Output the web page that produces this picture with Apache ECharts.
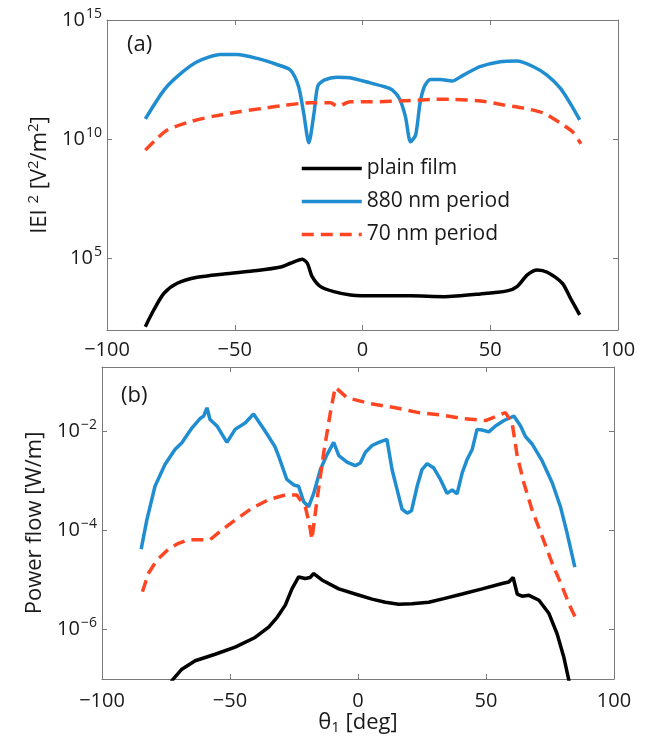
<!DOCTYPE html>
<html><head><meta charset="utf-8">
<script src="https://cdn.jsdelivr.net/npm/echarts@6/dist/echarts.min.js"></script>
<style>html,body{margin:0;padding:0;background:#fff}#c{width:657px;height:745px}</style>
</head><body><div id="c"></div>
<script>
// ---------- data ----------
const xTicks = [-100, -50, 0, 50, 100];
const topYTicks = [1e5, 1e10, 1e15];
const botYTicks = [1e-6, 1e-4, 1e-2];
const seriesNames = ['plain film', '880 nm period', '70 nm period'];

// panel (a): |E|^2
const aPlainX = [-85,-81.7,-77.7,-72.5,-64.7,-54.3,-41.2,-32,-28.2,-23.6,-21.6,-19.7,-16.4,-11.2,-4.7,5.7,18.8,31.9,46.2,56.6,60.5,64.5,68.4,72.3,78.2,81.4,85];
const aPlainY = [138,690,3470,9100,16200,22400,31000,43600,63000,93000,63000,17400,6600,4070,2950,2700,2700,2500,3240,4370,6600,20400,33100,26300,9100,2140,427];

const a880X = [-85,-77.7,-71.9,-64.7,-55.6,-49,-41.2,-33,-28.2,-25,-23,-21,-19,-17.5,-15,-10,-5,3,8.5,11.6,14.5,16.8,18.8,20.8,22.5,24.2,26.6,30.5,35,39.5,46,53.9,60.4,66.9,72.2,77.4,81.3,85];
const a880Y = [7.1e10,1.15e12,4.9e12,1.78e13,3.6e13,3.6e13,2.45e13,1.3e13,7.9e12,1.6e12,1.2e11,7.1e9,1.2e11,1.7e12,3.0e12,4.0e12,3.8e12,2.3e12,1.6e12,1.17e12,5e11,8.9e10,7.9e9,1.5e10,3.2e11,1.6e12,3.2e12,3.2e12,2.75e12,4.9e12,1.1e13,1.78e13,1.9e13,1.1e13,4.9e12,1.38e12,3.2e11,6.5e10];

const a70X = [-85,-81,-76.4,-67.3,-58.2,-47.7,-38.6,-31,-20.4,-12.5,-9.9,-4.7,3.1,18.8,27.9,35,46.2,55.3,63.2,71,77.5,82.1,85.5];
const a70Y = [3.5e9,9.3e9,2.45e10,5.5e10,9.3e10,1.45e11,2.0e11,2.6e11,3.4e11,3.4e11,2.45e11,3.7e11,3.7e11,4.2e11,4.7e11,4.7e11,4.0e11,2.75e11,2.0e11,1.23e11,4.7e10,2.1e10,6.5e9];

// panel (b): power flow
const bPlainX = [-85,-76,-72.7,-68.8,-63.6,-55.8,-48,-40.2,-34.9,-31.5,-28.4,-25.8,-23.2,-20.6,-18.7,-17.3,-14.1,-7.5,-1.1,5.5,10.7,15.9,21.1,27.6,33.5,40.7,48.5,56.3,58.9,60.6,62.2,64.1,66.8,70.7,74.6,77.8,80.4,82.4,85];
const bPlainY = [1e-9,3e-8,9.3e-8,1.58e-7,2.34e-7,3.16e-7,4.4e-7,6.9e-7,1.12e-6,1.78e-6,3.1e-6,6.6e-6,1.15e-5,1.07e-5,1.12e-5,1.35e-5,1.0e-5,6.6e-6,5.2e-6,4.1e-6,3.55e-6,3.24e-6,3.3e-6,3.55e-6,4.2e-6,5.2e-6,6.6e-6,8.5e-6,9.1e-6,1.12e-5,5.2e-6,4.7e-6,4.9e-6,3.9e-6,2.1e-6,8.1e-7,2.75e-7,9.3e-8,1.26e-8];

const b880X = [-84.7,-82.5,-79.3,-75.4,-71.5,-68.8,-64.9,-61.7,-60.3,-59,-57.8,-55.1,-51.2,-48,-44.1,-40.8,-36.3,-32.5,-31,-27.8,-25.1,-23.2,-21.2,-19.3,-17.3,-14.7,-12.1,-9.5,-7.5,-4.3,-1.1,0.9,2.9,5.5,8.1,11.3,13.3,15.3,17.2,19.2,20.9,23.1,25,27,29.6,32.2,34.8,36.8,38.7,40.7,42.6,44.6,46.5,48.5,51.1,53.7,57,60.9,63.5,65.4,68.1,72,75.9,79.1,81.7,84.7];
const b880Y = [4.2e-5,1.62e-4,7.8e-4,2.14e-3,4.3e-3,5.9e-3,1.17e-2,1.82e-2,2.04e-2,3.0e-2,1.74e-2,1.29e-2,6.0e-3,1.1e-2,1.48e-2,2.24e-2,1.02e-2,5.0e-3,3.16e-3,1.07e-3,8.3e-4,7.8e-4,3.8e-4,3.0e-4,5.6e-4,1.7e-3,3.4e-3,6.0e-3,3.24e-3,2.4e-3,2.04e-3,2.3e-3,3.8e-3,5.2e-3,6.0e-3,6.9e-3,1.7e-3,6.6e-4,2.7e-4,2.24e-4,2.5e-4,7.8e-4,1.7e-3,2.24e-3,1.82e-3,1.07e-3,5.6e-4,6.6e-4,5.5e-4,1.45e-3,2.7e-3,4.3e-3,1.1e-2,1.07e-2,9.8e-3,1.29e-2,1.66e-2,2.04e-2,1.29e-2,7.9e-3,5.5e-3,2.5e-3,9.1e-4,3.0e-4,8.7e-5,1.82e-5];

const b70X = [-84.2,-81.9,-78.6,-74,-70.1,-66.2,-62.3,-57.8,-53.2,-48,-41.5,-34.9,-28.4,-23.9,-20.6,-19,-18,-16,-13.4,-10.8,-8.9,-4.3,4.2,14.6,23.7,32.9,40.7,49.8,57.6,60.2,62.2,64.8,68,72,75.9,79.8,83,85.5];
const b70Y = [5.8e-6,1.35e-5,2.5e-5,4.2e-5,5.5e-5,6.5e-5,6.5e-5,6.5e-5,1.02e-4,1.62e-4,2.8e-4,4.2e-4,5.2e-4,5.2e-4,3.0e-4,1.38e-4,6.6e-5,4.2e-4,3.7e-3,2.4e-2,7.8e-2,4.8e-2,3.7e-2,3.0e-2,2.4e-2,2.14e-2,1.82e-2,1.66e-2,2.4e-2,1.48e-2,3.16e-3,9.1e-4,2.6e-4,7.4e-5,2.14e-5,7.2e-6,2.8e-6,1.5e-6];

// ---------- styling ----------
const FONT = 'Open Sans';
const AX = '#7a7a7a';
const TXT = '#1a1a1a';
const colors = { plain: '#000000', p880: '#1f8dd0', p70: '#ff4522' };

function zip(xs, ys) { return xs.map((x, i) => [x, ys[i]]); }
function minus(s) { return String(s).replace('-', '\u2212'); }
function logFmt(v) {
  const e = Math.round(Math.log10(v));
  return '{b|10}{s|' + minus(e) + '}';
}
const supRich = {
  b: { fontFamily: FONT, fontSize: 20, color: TXT },
  s: { fontFamily: FONT, fontSize: 14, color: TXT, padding: [0, 0, 12, 1] }
};

function xAxis(grid, pos, labels, name, margin) {
  return {
    type: 'value', gridIndex: grid, position: pos, min: -100, max: 100, interval: 50,
    axisLine: { show: true, onZero: false, lineStyle: { color: AX, width: 1 } },
    axisTick: { show: true, inside: true, length: 5, lineStyle: { color: AX } },
    axisLabel: { show: labels, margin: margin, fontFamily: FONT, fontSize: 20, color: TXT,
      formatter: v => minus(v) },
    splitLine: { show: false },
    name: name || '', nameLocation: 'middle', nameGap: 30,
    nameTextStyle: { fontFamily: FONT, fontSize: 22, color: TXT,
      rich: { t: { fontFamily: FONT, fontSize: 22, color: TXT },
              sub: { fontFamily: FONT, fontSize: 15, color: TXT, padding: [10, 0, 0, 0] } } }
  };
}
function yAxis(grid, pos, labels, min, max, ticks, name, nameGap) {
  return {
    type: 'log', logBase: 10, gridIndex: grid, position: pos, min: min, max: max,
    axisLine: { show: true, onZero: false, lineStyle: { color: AX, width: 1 } },
    axisTick: { show: true, inside: true, length: 5, lineStyle: { color: AX }, customValues: ticks },
    minorTick: { show: false },
    axisLabel: { show: labels, margin: 5, customValues: ticks, formatter: logFmt, rich: supRich,
      showMaxLabel: true, showMinLabel: true, hideOverlap: false },
    splitLine: { show: false },
    name: name || '', nameLocation: 'middle', nameGap: nameGap || 50, nameRotate: 90,
    nameTextStyle: { fontFamily: FONT, fontSize: 22, color: TXT,
      rich: { t: { fontFamily: FONT, fontSize: 22, color: TXT },
              s: { fontFamily: FONT, fontSize: 15, color: TXT, padding: [0, 0, 12, 0] } } }
  };
}
function line(name, data, color, xi, yi, dashed, smooth) {
  return {
    type: 'line', name: name, data: data, xAxisIndex: xi, yAxisIndex: yi,
    showSymbol: false, symbol: 'none', clip: true, smooth: smooth || false,
    lineStyle: { color: color, width: 3.5, type: dashed ? [12, 7] : 'solid', cap: 'butt' },
    itemStyle: { color: color }, emphasis: { disabled: true }, animation: false, z: dashed ? 3 : 2
  };
}

const chart = echarts.init(document.getElementById('c'), null, { renderer: 'canvas' });
chart.setOption({
  backgroundColor: '#ffffff',
  animation: false,
  grid: [
    { left: 107, top: 20, width: 511, height: 310, containLabel: false },
    { left: 102, top: 367, width: 512, height: 312, containLabel: false }
  ],
  xAxis: [
    xAxis(0, 'bottom', true, '', 10),
    xAxis(0, 'top', false, '', 10),
    xAxis(1, 'bottom', true, '{t|\u03b8}{sub|1}{t| [deg]}', 12),
    xAxis(1, 'top', false, '', 10)
  ],
  yAxis: [
    yAxis(0, 'left', true, 1e2, 1.001e15, topYTicks, '{t|IEI }{s|2}{t| [V}{s|2}{t|/m}{s|2}{t|]}', 53),
    yAxis(0, 'right', false, 1e2, 1.001e15, topYTicks),
    yAxis(1, 'left', true, 1e-7, 0.2, botYTicks, '{t|Power flow [W/m]}', 56),
    yAxis(1, 'right', false, 1e-7, 0.2, botYTicks)
  ],
  legend: {
    data: seriesNames, orient: 'vertical', left: 295, top: 153,
    itemWidth: 60, itemHeight: 20, itemGap: 12, selectedMode: false,
    itemStyle: { opacity: 0 },
    lineStyle: { width: 3.5 },
    textStyle: { fontFamily: FONT, fontSize: 21, color: TXT },
    backgroundColor: 'transparent'
  },
  graphic: [
    { type: 'text', left: 127, top: 34, style: { text: '(a)', font: '22px "Open Sans"', fill: TXT } },
    { type: 'text', left: 121, top: 385, style: { text: '(b)', font: '22px "Open Sans"', fill: TXT } }
  ],
  series: [
    line(seriesNames[0], zip(aPlainX, aPlainY), colors.plain, 0, 0, false, 0.25),
    line(seriesNames[1], zip(a880X, a880Y), colors.p880, 0, 0, false, 0.25),
    line(seriesNames[2], zip(a70X, a70Y), colors.p70, 0, 0, true, 0.25),
    line(seriesNames[0], zip(bPlainX, bPlainY), colors.plain, 2, 2, false),
    line(seriesNames[1], zip(b880X, b880Y), colors.p880, 2, 2, false),
    line(seriesNames[2], zip(b70X, b70Y), colors.p70, 2, 2, true)
  ]
});
</script>
</body></html>
